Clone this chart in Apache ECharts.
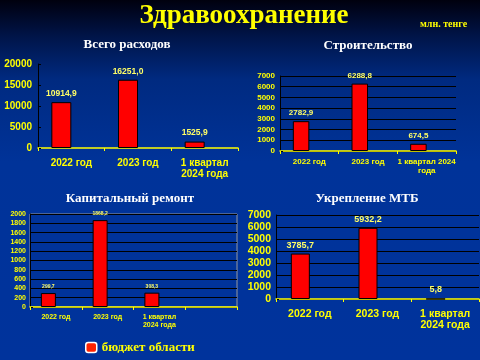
<!DOCTYPE html>
<html><head><meta charset="utf-8">
<script src="https://cdn.jsdelivr.net/npm/echarts@6/dist/echarts.min.js"></script>
<style>html,body{margin:0;padding:0;}#c{width:480px;height:360px;}</style>
</head><body><div id="c"></div>
<script>
// ---- data ----
const cats3 = ['2022 год', '2023 год', '1 квартал\n2024 года'];
const cats3b = ['2022 год', '2023 год', '1 квартал 2024\nгода'];
const cats4 = ['2022 год', '2023 год', '1 квартал\n2024 года', ''];
const totalVals = [10914.9, 16251.0, 1525.9];
const buildVals = [2782.9, 6288.8, 674.5];
const repairVals = [299.7, 1868.2, 308.3, null];
const mtbVals = [3785.7, 5932.2, 5.8];
const totalTicks = {min: 0, max: 20000, interval: 5000};
const buildTicks = {min: 0, max: 7000, interval: 1000};
const repairTicks = {min: 0, max: 2000, interval: 200};
const mtbTicks = {min: 0, max: 7000, interval: 1000};
const seriesName = 'бюджет области';

const YEL = '#ffff00';
const LBL = '#ffff66';
const fmt = v => (v.value == null ? '' : v.value.toFixed(1).replace('.', ','));

function xAx(idx, data, fs, margin) {
  return {gridIndex: idx, type: 'category', data: data,
    axisLine: {lineStyle: {color: YEL, width: 1.5}},
    axisTick: {show: true, length: 3, lineStyle: {color: YEL}},
    axisLabel: {color: YEL, fontSize: fs, fontWeight: 'bold', fontFamily: 'Arial', margin: margin, lineHeight: fs + 1, interval: 0}};
}
function yAx(idx, t, fs, margin, grid) {
  return {gridIndex: idx, type: 'value', min: t.min, max: t.max, interval: t.interval,
    axisLine: {show: true, lineStyle: {color: '#000', width: 1}},
    axisTick: {show: true, inside: true, length: 3, lineStyle: {color: '#000'}},
    splitLine: {show: grid, lineStyle: {color: '#000', width: 1}},
    axisLabel: {color: YEL, fontSize: fs, fontWeight: 'bold', fontFamily: 'Arial', margin: margin,
      formatter: v => String(v)}};
}
function bars(idx, vals, w, fs) {
  return [{
    name: seriesName, type: 'bar', xAxisIndex: idx, yAxisIndex: idx, data: vals,
    barWidth: w, barGap: '0%',
    itemStyle: {color: '#ff0000', borderColor: '#000', borderWidth: 1},
    label: {show: true, position: 'top', distance: 4, color: LBL, fontSize: fs, fontWeight: 'bold', fontFamily: 'Arial', formatter: fmt}
  }, {
    name: 'empty', type: 'bar', xAxisIndex: idx, yAxisIndex: idx, data: vals.map(() => null),
    barWidth: w, barGap: '0%', silent: true
  }];
}
const tStyle = {color: '#ffffff', fontFamily: 'Liberation Serif', fontWeight: 'bold', fontSize: 13,
  textShadowColor: '#000', textShadowBlur: 0, textShadowOffsetX: 1, textShadowOffsetY: 1};

const chart = echarts.init(document.getElementById('c'), null, {renderer: 'canvas'});
chart.setOption({
  animation: false,
  backgroundColor: {type: 'linear', x: 0, y: 0, x2: 0, y2: 1, colorStops: [
    {offset: 0, color: '#00000e'}, {offset: 0.1, color: '#001448'}, {offset: 0.22, color: '#002a80'},
    {offset: 0.45, color: '#003399'}, {offset: 1, color: '#00339c'}]},
  title: [
    {text: 'Здравоохранение', left: 239, top: -2, textAlign: 'center',
      textStyle: {color: YEL, fontFamily: 'Liberation Serif', fontWeight: 'bold', fontSize: 27,
        textShadowColor: '#000', textShadowOffsetX: 1, textShadowOffsetY: 1}},
    {text: 'млн. тенге', left: 415, top: 14,
      textStyle: {color: YEL, fontFamily: 'Liberation Serif', fontWeight: 'bold', fontSize: 10}},
    {text: 'Всего расходов', left: 122, top: 33, textAlign: 'center', textStyle: tStyle},
    {text: 'Строительство', left: 363, top: 34, textAlign: 'center', textStyle: tStyle},
    {text: 'Капитальный ремонт', left: 125, top: 187, textAlign: 'center', textStyle: tStyle},
    {text: 'Укрепление МТБ', left: 362, top: 187, textAlign: 'center', textStyle: tStyle}
  ],
  legend: {data: [seriesName], left: 80, top: 336, itemWidth: 11, itemHeight: 10, itemGap: 6,
    itemStyle: {color: '#ff2200', borderColor: '#fff', borderWidth: 1.5},
    textStyle: {color: YEL, fontFamily: 'Liberation Serif', fontWeight: 'bold', fontSize: 13}},
  grid: [
    {left: 38, top: 64, width: 200, height: 84},
    {left: 280, top: 76, width: 176, height: 75, borderColor: '#000'},
    {left: 30, top: 214, width: 207, height: 93, show: true, borderColor: '#999', borderWidth: 1},
    {left: 276, top: 215, width: 203, height: 84}
  ],
  xAxis: [xAx(0, cats3, 10, 10), xAx(1, cats3b, 8, 6), xAx(2, cats4, 7, 6), xAx(3, cats3, 10.5, 9)],
  yAxis: [yAx(0, totalTicks, 10, 6, false), yAx(1, buildTicks, 8, 5, true), yAx(2, repairTicks, 7, 4, true), yAx(3, mtbTicks, 10.5, 5, true)],
  series: [].concat(bars(0, totalVals, 20, 8.5), bars(1, buildVals, 16.5, 8), bars(2, repairVals, 15, 5), bars(3, mtbVals, 19, 9))
});
</script></body></html>
